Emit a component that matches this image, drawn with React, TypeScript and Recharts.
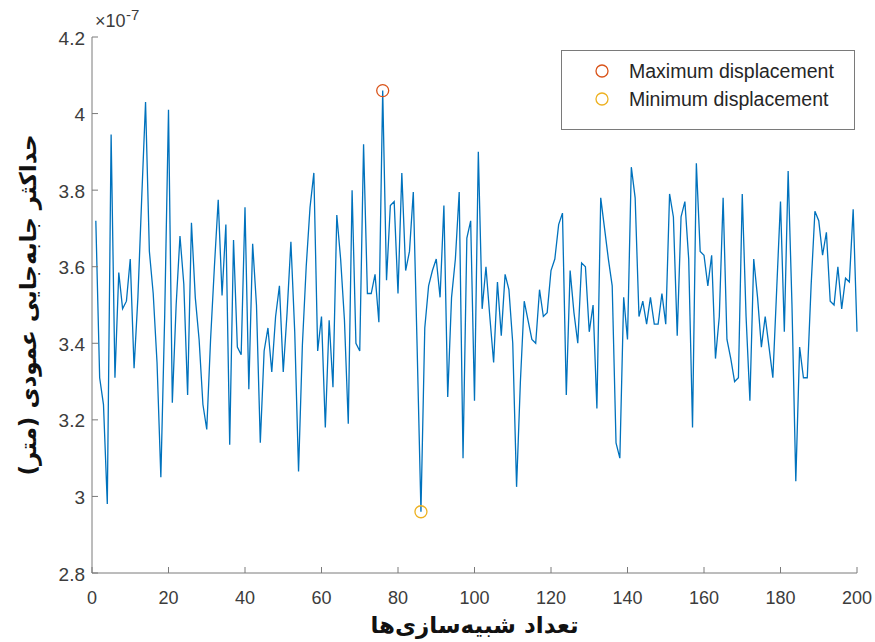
import React from 'react';
import { ComposedChart, Line, Scatter, XAxis, YAxis, Legend } from 'recharts';

// max vertical displacement per simulation run (x 1e-7 m)
const displacement = [
  3.72, 3.31, 3.24, 2.98, 3.945, 3.31, 3.585, 3.49, 3.51, 3.62,
  3.335, 3.52, 3.78, 4.03, 3.64, 3.53, 3.35, 3.05, 3.47, 4.01,
  3.245, 3.5, 3.68, 3.555, 3.265, 3.715, 3.52, 3.41, 3.24, 3.175,
  3.41, 3.6, 3.775, 3.525, 3.71, 3.135, 3.67, 3.39, 3.37, 3.755,
  3.28, 3.66, 3.5, 3.14, 3.38, 3.44, 3.325, 3.47, 3.55, 3.325,
  3.48, 3.665, 3.43, 3.065, 3.395, 3.6, 3.755, 3.845, 3.38, 3.47,
  3.18, 3.46, 3.285, 3.735, 3.62, 3.46, 3.19, 3.8, 3.4, 3.38,
  3.92, 3.53, 3.53, 3.58, 3.455, 4.06, 3.565, 3.76, 3.77, 3.53,
  3.845, 3.59, 3.64, 3.795, 3.39, 2.96, 3.44, 3.55, 3.59, 3.62,
  3.52, 3.76, 3.26, 3.52, 3.62, 3.795, 3.1, 3.675, 3.72, 3.25,
  3.9, 3.49, 3.6, 3.47, 3.35, 3.56, 3.42, 3.58, 3.54, 3.4,
  3.025, 3.3, 3.51, 3.46, 3.41, 3.4, 3.54, 3.47, 3.48, 3.59,
  3.62, 3.71, 3.74, 3.265, 3.59, 3.48, 3.4, 3.61, 3.6, 3.43,
  3.5, 3.23, 3.78, 3.7, 3.62, 3.55, 3.14, 3.1, 3.52, 3.41,
  3.86, 3.78, 3.47, 3.51, 3.45, 3.52, 3.45, 3.45, 3.53, 3.45,
  3.79, 3.73, 3.42, 3.73, 3.77, 3.62, 3.18, 3.87, 3.64, 3.63,
  3.55, 3.63, 3.36, 3.47, 3.78, 3.41, 3.36, 3.3, 3.31, 3.79,
  3.47, 3.25, 3.62, 3.52, 3.39, 3.47, 3.39, 3.31, 3.54, 3.77,
  3.43, 3.85, 3.5, 3.04, 3.39, 3.31, 3.31, 3.55, 3.745, 3.72,
  3.63, 3.69, 3.51, 3.5, 3.6, 3.49, 3.57, 3.56, 3.75, 3.43,
];
const runs = displacement.map((_, i) => i + 1);

const xTicks = [0, 20, 40, 60, 80, 100, 120, 140, 160, 180, 200];
const yTicks = [2.8, 3, 3.2, 3.4, 3.6, 3.8, 4, 4.2];

const data = runs.map((run, i) => ({ run, value: displacement[i] }));

const maxIdx = displacement.indexOf(Math.max(...displacement));
const minIdx = displacement.indexOf(Math.min(...displacement));
const maxPoint = [data[maxIdx]];
const minPoint = [data[minIdx]];

const AXIS = '#7a7a7a';
const TICK_TEXT = '#3c3c3c';
const TICK_FONT = '"Liberation Sans", Arial, sans-serif';

const XTick = ({ x, y, payload }: any) => (
  <g>
    <line x1={x} x2={x} y1={y} y2={y - 6} stroke={AXIS} />
    <text x={x} y={y + 25} textAnchor="middle" dominantBaseline="central"
      fontFamily={TICK_FONT} fontSize={18} fill={TICK_TEXT}>{payload.value}</text>
  </g>
);

const YTick = ({ x, y, payload }: any) => (
  <g>
    <line x1={x} x2={x + 6} y1={y} y2={y} stroke={AXIS} />
    <text x={x - 7} y={y + 1} textAnchor="end" dominantBaseline="central"
      fontFamily={TICK_FONT} fontSize={19} fill={TICK_TEXT}>{Number(payload.value.toFixed(1))}</text>
  </g>
);

const ring = (color: string) => (props: any) => (
  <circle cx={props.cx} cy={props.cy} r={6} fill="none" stroke={color} strokeWidth={1.3} />
);

const renderLegend = (props: any) => (
  <div style={{
    border: `1px solid ${AXIS}`, background: '#fff', width: 294, height: 80,
    boxSizing: 'border-box', paddingTop: 6, paddingLeft: 32,
    fontFamily: TICK_FONT, color: '#262626',
  }}>
    {props.payload.filter((e: any) => e.type !== 'none').map((e: any) => (
      <div key={e.value} style={{ display: 'flex', alignItems: 'center', height: 28 }}>
        <svg width={16} height={16}>
          <circle cx={8} cy={8} r={6} fill="none" stroke={e.color} strokeWidth={1.3} />
        </svg>
        <span style={{ marginLeft: 19, fontSize: 19.5 }}>{e.value}</span>
      </div>
    ))}
  </div>
);

const renderYLabel = (props: any) => {
  const { x, y, width, height } = props.viewBox;
  return (
    <g>
      <text x={x - 4} y={y + height / 2} transform={`rotate(-90, ${x - 4}, ${y + height / 2})`}
        textAnchor="middle" dominantBaseline="central" fontFamily="DejaVu Sans"
        fontWeight="bold" fontSize={23} fill="#111">حداکثر جابه‌جایی عمودی (متر)</text>
      <text x={x + width + 3} y={y - 16} fontFamily={TICK_FONT} fontSize={18} fill={TICK_TEXT}
        dominantBaseline="central">×10</text>
      <text x={x + width + 34} y={y - 23} fontFamily={TICK_FONT} fontSize={15} fill={TICK_TEXT}
        dominantBaseline="central">-7</text>
    </g>
  );
};

const renderXLabel = (props: any) => {
  const { x, y, width } = props.viewBox;
  return (
    <text x={x + width / 2} y={y + 52} textAnchor="middle" dominantBaseline="central"
      fontFamily="DejaVu Sans" fontWeight="bold" fontSize={23} fill="#111">تعداد شبیه‌سازی‌ها</text>
  );
};

export default function App() {
  return (
    <div>
      <style>{'body{margin:0;background:#fff}'}</style>
      <ComposedChart width={875} height={642} data={data}
        margin={{ top: 37, right: 18, bottom: 29, left: 32 }}>
        <XAxis dataKey="run" type="number" domain={[0, 200]} ticks={xTicks} interval={0}
          height={40} tickSize={0} tickMargin={0} tickLine={false}
          axisLine={{ stroke: AXIS }} tick={<XTick />} label={{ content: renderXLabel }} />
        <YAxis type="number" domain={[2.8, 4.2]} ticks={yTicks} interval={0} width={60}
          tickSize={0} tickMargin={0} tickLine={false} allowDataOverflow
          axisLine={{ stroke: AXIS }} tick={<YTick />} label={{ content: renderYLabel }} />
        <Line dataKey="value" type="linear" stroke="#0072BD" strokeWidth={1.3} dot={false}
          legendType="none" isAnimationActive={false} />
        <Scatter name="Maximum displacement" data={maxPoint} dataKey="value" fill="#D95319"
          shape={ring('#D95319')} isAnimationActive={false} />
        <Scatter name="Minimum displacement" data={minPoint} dataKey="value" fill="#EDB120"
          shape={ring('#EDB120')} isAnimationActive={false} />
        <Legend layout="horizontal" verticalAlign="middle" align="center" content={renderLegend}
          wrapperStyle={{ left: 561, top: 50, width: 294, height: 80 }} />
      </ComposedChart>
    </div>
  );
}
